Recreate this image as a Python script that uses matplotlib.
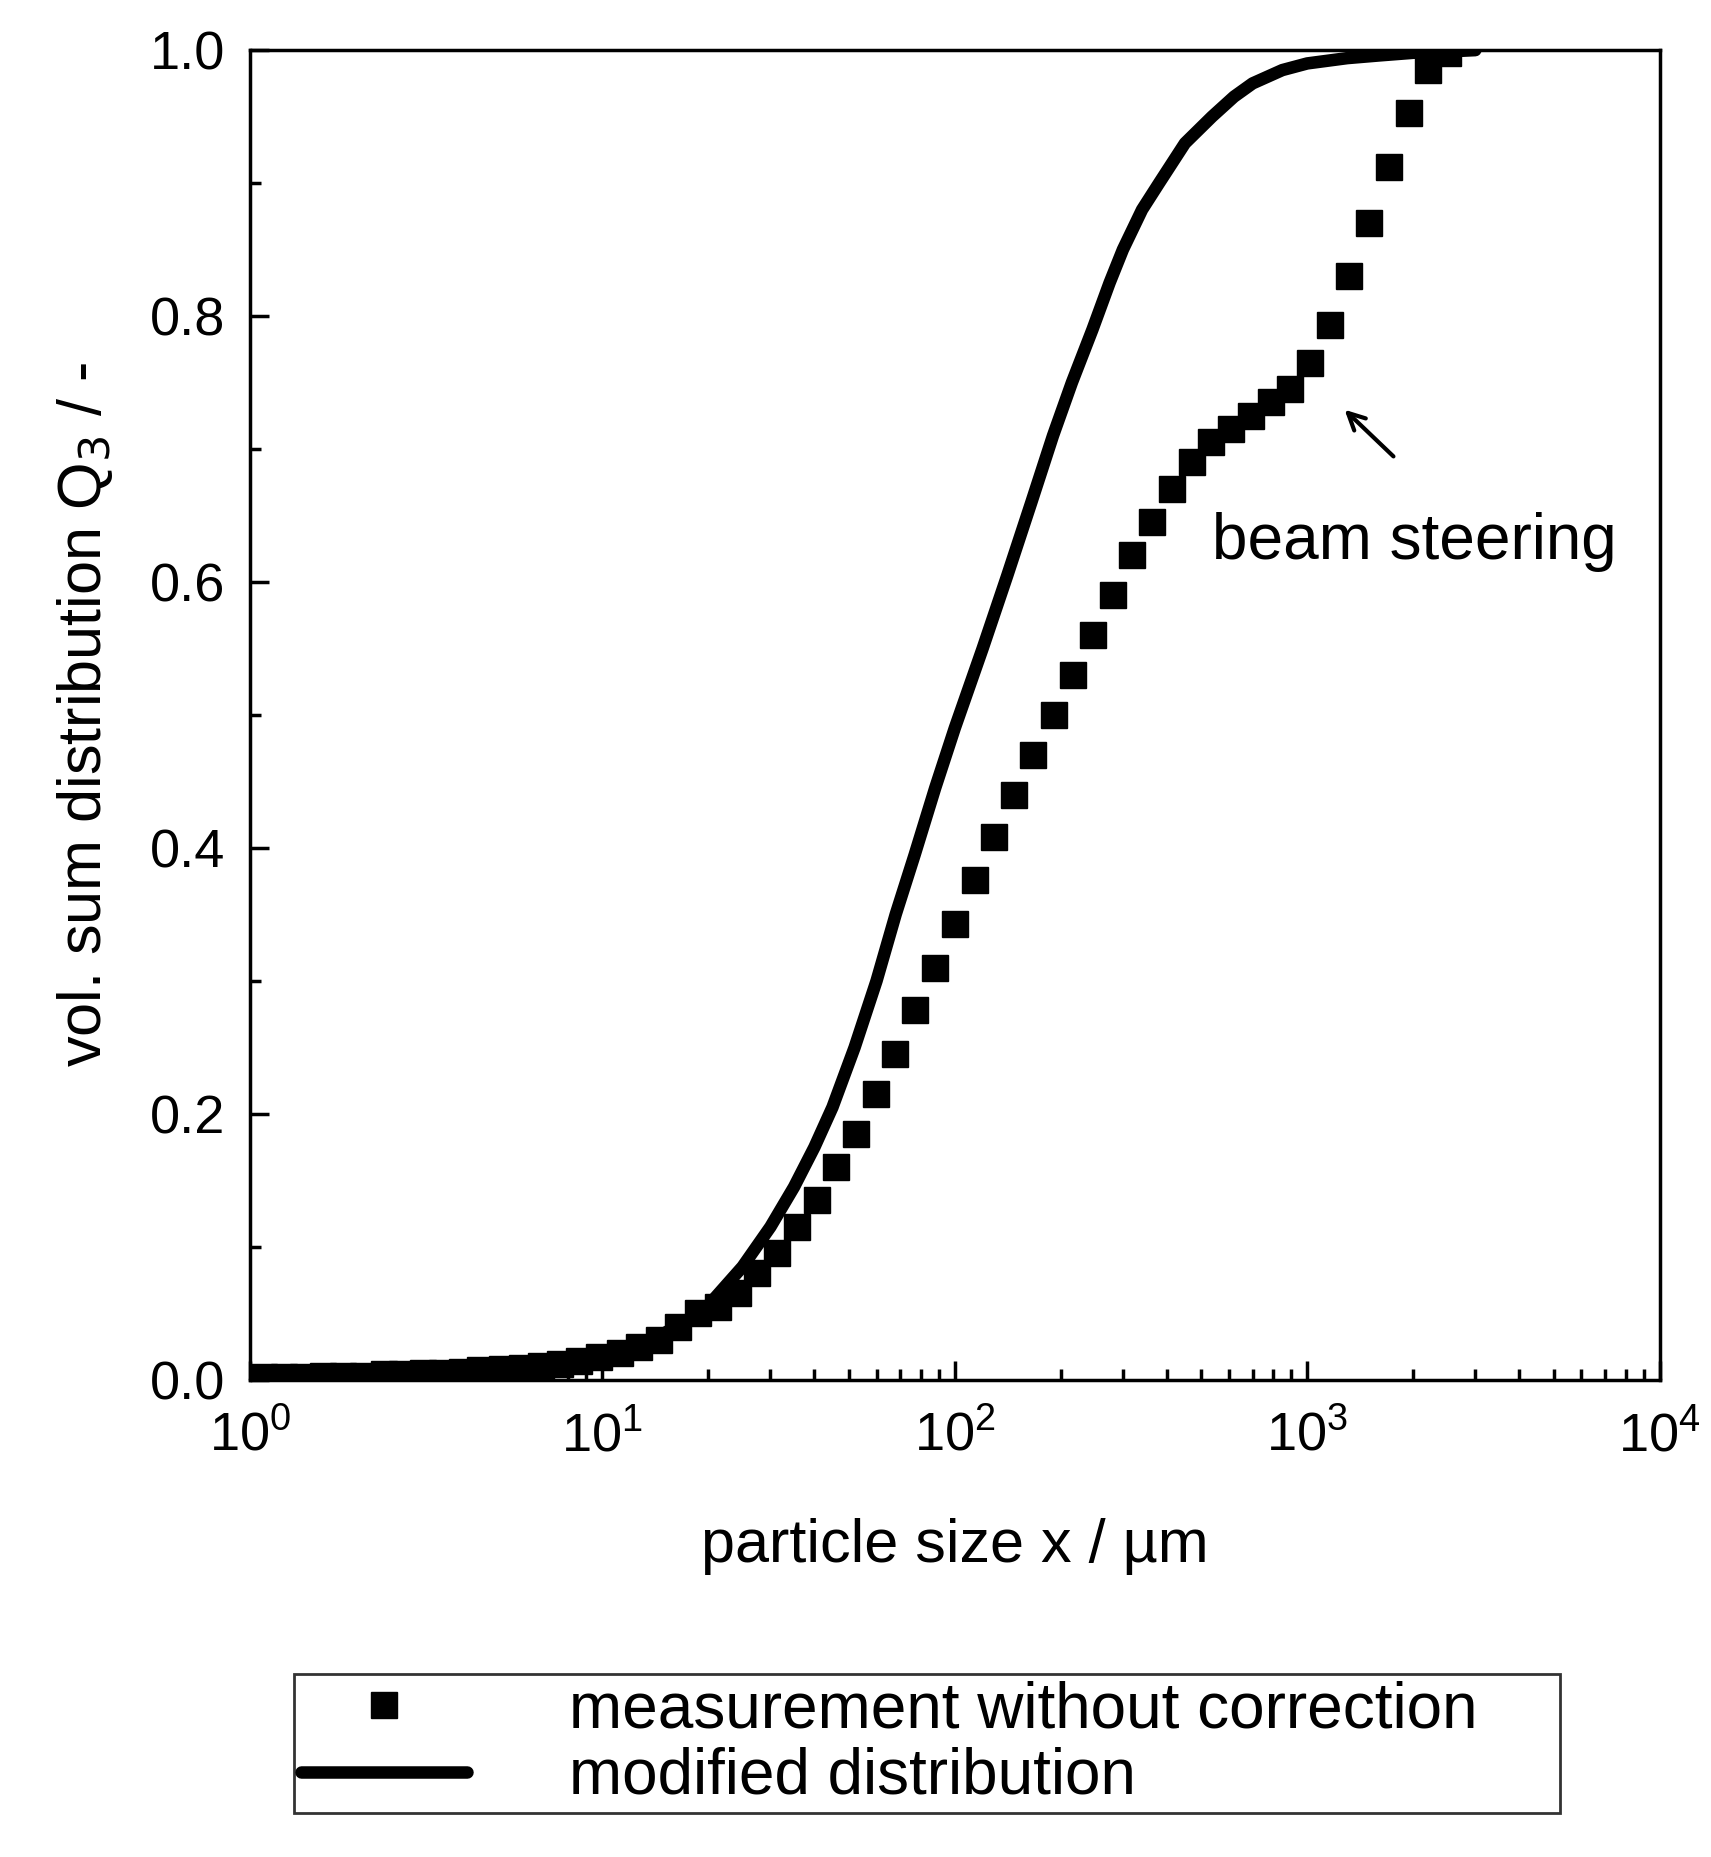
import numpy as np
import matplotlib
matplotlib.use("Agg")
import matplotlib.pyplot as plt
from matplotlib.ticker import MultipleLocator, LogLocator, NullFormatter

plt.rcParams['font.family'] = ['Liberation Sans', 'DejaVu Sans']

meas_x = [1.10, 1.25, 1.42, 1.61, 1.84, 2.1, 2.4, 2.7, 3.1, 3.5, 4.0, 4.5, 5.2, 5.9,
          6.7, 7.6, 8.6, 9.8, 11.2, 12.7, 14.5, 16.4, 18.7, 21.3, 24.2, 27.5, 31.3,
          35.6, 40.6, 46.1, 52.5, 59.7, 67.9, 77.3, 87.9, 100, 114, 129, 147, 167,
          191, 217, 247, 281, 319, 363, 413, 470, 535, 608, 692, 787, 895, 1019,
          1159, 1318, 1500, 1706, 1941, 2208, 2512]
meas_y = [0.002, 0.002, 0.002, 0.003, 0.003, 0.003, 0.004, 0.004, 0.005, 0.005, 0.006,
          0.007, 0.008, 0.009, 0.01, 0.012, 0.014, 0.017, 0.02,
          0.025, 0.03, 0.04, 0.05, 0.055, 0.065, 0.08, 0.095, 0.115, 0.135,
          0.16, 0.185, 0.215, 0.245, 0.278, 0.31, 0.343, 0.376, 0.408, 0.44,
          0.47, 0.5, 0.53, 0.56, 0.59, 0.62, 0.645, 0.67, 0.69, 0.705,
          0.715, 0.725, 0.735, 0.745, 0.765, 0.793, 0.83, 0.87, 0.912, 0.953,
          0.985, 0.998]

# modified distribution
mod_x = [1, 3, 6, 10, 12.5, 15, 17.5, 20, 25, 30, 35, 40, 45, 52, 60, 68, 77, 88, 100,
         120, 141, 165, 190, 215, 246, 275, 300, 340, 380, 450, 537, 620, 700, 850,
         1000, 1300, 1600, 2000, 2500, 3000]
mod_y = [0.003, 0.005, 0.01, 0.018, 0.025, 0.035, 0.045, 0.056, 0.085, 0.115, 0.145,
         0.175, 0.205, 0.25, 0.3, 0.35, 0.395, 0.445, 0.49, 0.55, 0.605, 0.66, 0.71,
         0.75, 0.79, 0.825, 0.85, 0.88, 0.9, 0.93, 0.95, 0.965, 0.975, 0.985,
         0.99, 0.994, 0.996, 0.998, 0.999, 1.0]

fig = plt.figure(figsize=(17.11, 18.57), dpi=100)
ax = fig.add_axes([0.146, 0.257, 0.824, 0.716])

ax.plot(mod_x, mod_y, color='black', lw=9, solid_capstyle='round',
        solid_joinstyle='round', label='modified distribution')
ax.plot(meas_x, meas_y, ls='none', marker='s', ms=19, color='black',
        label='measurement without correction')

ax.set_xscale('log')
ax.set_xlim(1, 1e4)
ax.set_ylim(0, 1.0)
ax.yaxis.set_major_locator(MultipleLocator(0.2))
ax.yaxis.set_minor_locator(MultipleLocator(0.1))
ax.xaxis.set_minor_locator(LogLocator(base=10, subs=np.arange(2, 10), numticks=20))
ax.xaxis.set_minor_formatter(NullFormatter())
ax.yaxis.set_major_formatter(matplotlib.ticker.FormatStrFormatter('%.1f'))
ax.tick_params(which='both', direction='in', width=2.5, labelsize=39)
ax.tick_params(axis='x', pad=22)
ax.tick_params(axis='y', pad=18)
ax.tick_params(which='major', length=14)
ax.tick_params(which='minor', length=8)
for s in ax.spines.values():
    s.set_linewidth(2.5)

ax.set_xlabel('particle size x / µm', fontsize=44, labelpad=40)
ax.set_ylabel('vol. sum distribution Q$_3$ / -', fontsize=44, labelpad=25)

ax.annotate('', xy=(1260, 0.731), xytext=(1780, 0.693),
            arrowprops=dict(arrowstyle='->', lw=3, color='black', mutation_scale=30))
ax.text(537, 0.63, 'beam steering', fontsize=46, va='center', ha='left')

h, l = ax.get_legend_handles_labels()
leg = fig.legend(h[::-1], l[::-1], loc='center', bbox_to_anchor=(0.172, 0.012, 0.74, 0.098),
                 mode='expand', fontsize=46, frameon=True, fancybox=False, edgecolor='black',
                 handlelength=2.6, handletextpad=1.6, borderpad=0.1, borderaxespad=0,
                 labelspacing=0.1)
leg.get_frame().set_linewidth(2)

fig.savefig('out.png', dpi=100)
